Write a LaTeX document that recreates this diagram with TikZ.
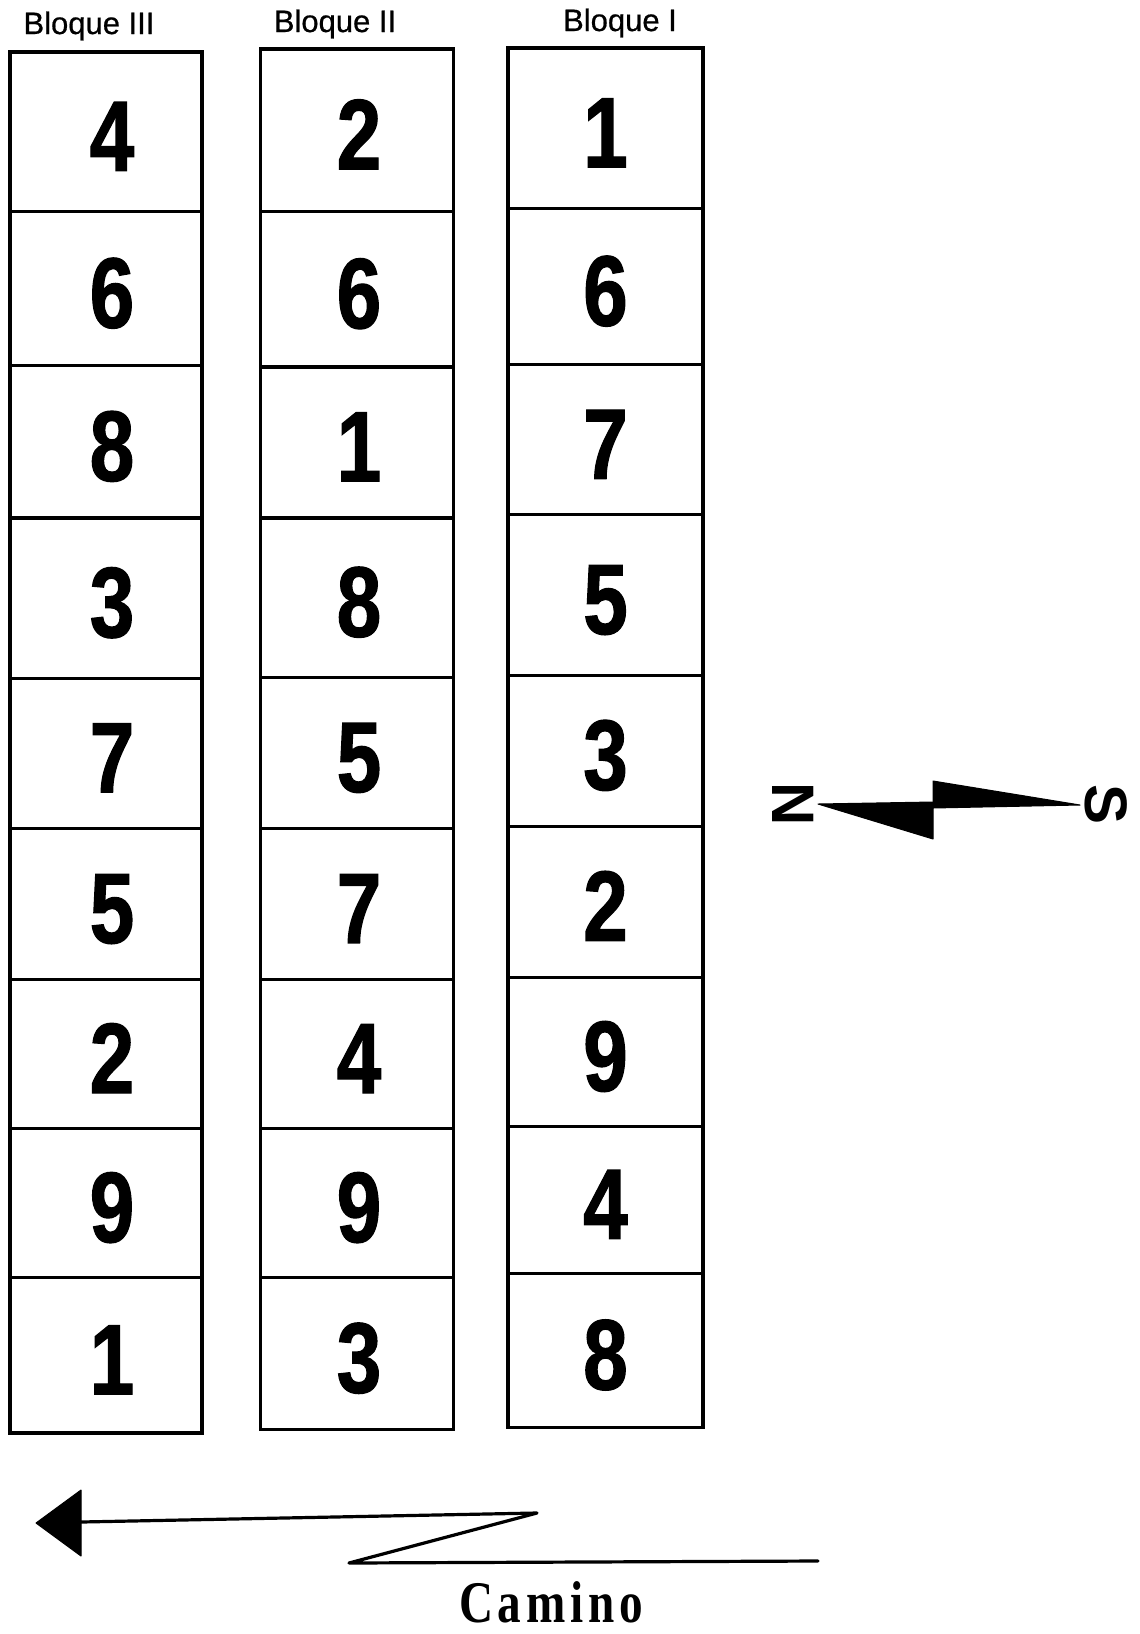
\documentclass[tikz,border=0pt]{standalone}
\usepackage{fontspec}
\setmainfont{Liberation Sans}
\newfontfamily\digitfont[FakeStretch=0.8,FakeBold=1.2]{Liberation Sans}
\newfontfamily\caminofont[FakeStretch=0.8,LetterSpace=8]{Liberation Serif}
\newfontfamily\labelfont[FakeBold=0.6]{Liberation Sans}
\begin{document}
\begin{tikzpicture}[x=1pt,y=-1pt,
  cell/.style={draw,line width=3.4pt,inner sep=0pt,text height=78pt,text depth=0pt,
    font=\digitfont\bfseries\fontsize{100}{100}\selectfont},
  blabel/.style={font=\labelfont\fontsize{31}{31}\selectfont,inner sep=0pt},
  pole/.style={font=\bfseries\fontsize{60}{60}\selectfont,inner sep=0pt,rotate=-90},
  bolt/.style={fill=black,draw=black,line width=1pt,line join=round},
  road/.style={line width=3.2pt,line join=round,line cap=round}]
\useasboundingbox (0,0) rectangle (1140,1634);
% Bloque III
\foreach \n/\t/\b [count=\i] in {4/52.1/211.5, 6/211.5/365.7, 8/365.7/517.9, 3/517.9/678.3,
  7/678.3/828.4, 5/828.4/979.5, 2/979.5/1128.5, 9/1128.5/1277.5, 1/1277.5/1432.8}{
  \node[cell,minimum width=192pt,minimum height={(\b-\t)*1pt}] (c3-\i) at (106,{(\t+\b)/2}) {\hspace*{12pt}\n};
}
% Bloque II
\foreach \n/\t/\b [count=\i] in {2/49/211.5, 6/211.5/366.8, 1/366.8/517.9, 8/517.9/677.3,
  5/677.3/828.4, 7/828.4/979.5, 4/979.5/1128.5, 9/1128.5/1277.5, 3/1277.5/1429.6}{
  \node[cell,minimum width=192.5pt,minimum height={(\b-\t)*1pt}] (c2-\i) at (357,{(\t+\b)/2}) {\hspace*{4pt}\n};
}
% Bloque I
\foreach \n/\t/\b [count=\i] in {1/47.9/208.4, 6/208.4/364.7, 7/364.7/514.7, 5/514.7/675.2,
  3/675.2/826.3, 2/826.3/977.4, 9/977.4/1126.4, 4/1126.4/1273.3, 8/1273.3/1427.5}{
  \node[cell,minimum width=195pt,minimum height={(\b-\t)*1pt}] (c1-\i) at (605.5,{(\t+\b)/2}) {\n};
}
\node[blabel] (b3) at (89,26) {Bloque III};
\node[blabel] (b2) at (335,24) {Bloque II};
\node[blabel] (b1) at (620,23) {Bloque I};
% compass
\node[pole] (N) at (793,804) {N};
\node[pole] (S) at (1106,804) {S};
\coordinate (lt) at (818,804);
\coordinate (rt) at (1080,805);
\fill[bolt] (lt) -- (933,802) -- (933,839) -- cycle;
\fill[bolt] (933,781) -- (rt) -- (933,808) -- cycle;
% road arrow
\coordinate (tip) at (36,1523);
\coordinate (ha) at (81,1490);
\coordinate (hb) at (81,1556);
\coordinate (z1) at (537,1513);
\coordinate (z2) at (349,1563);
\coordinate (z3) at (818,1561);
\fill[bolt] (tip) -- (ha) -- (hb) -- cycle;
\draw[road] (81,1522) -- (z1) -- (z2) -- (z3);
\node[font=\caminofont\bfseries\fontsize{59}{59}\selectfont,inner sep=0pt] (camino) at (551,1602) {Camino};
\end{tikzpicture}
\end{document}
